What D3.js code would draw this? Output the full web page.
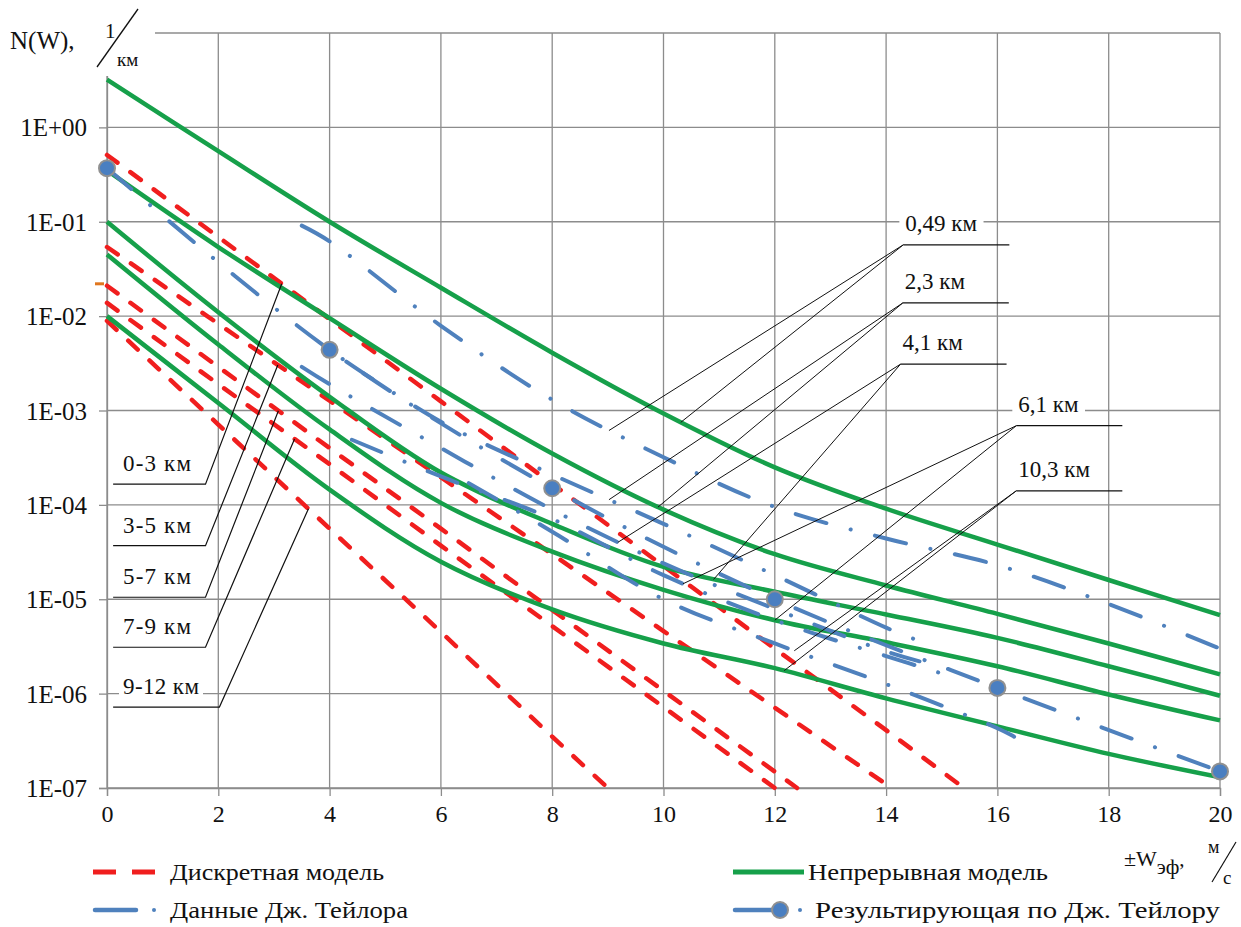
<!DOCTYPE html>
<html>
<head>
<meta charset="utf-8">
<script src="https://cdn.jsdelivr.net/npm/d3@7"></script>
<style>
  body { margin: 0; background: #fff; }
  svg text { font-family: "Liberation Serif", "DejaVu Serif", "Times New Roman", serif !important; fill: #111; }
</style>
</head>
<body>
<div id="chart"></div>
<script>
//axis ticks
var xTicks = [0, 2, 4, 6, 8, 10, 12, 14, 16, 18, 20];
var yTicks = [1e-7, 1e-6, 1e-5, 1e-4, 1e-3, 1e-2, 1e-1, 1];
var yTickLabels = ["1E-07", "1E-06", "1E-05", "1E-04", "1E-03", "1E-02", "1E-01", "1E+00"];

//discrete model (red dashed), one row per altitude band
var discreteNames = ["0-3 км", "3-5 км", "5-7 км", "7-9 км", "9-12 км"];
var discreteW = [
    [0, 2, 4, 6, 8, 10, 12, 14, 15.4],
    [0, 2, 4, 6, 8, 10, 12, 14.1],
    [0, 2, 4, 6, 8, 10, 12, 12.4],
    [0, 2, 4, 6, 8, 10, 12],
    [0, 2, 4, 6, 8, 9]
];
var discreteN = [
    [0.51, 0.069, 0.0093, 0.00125, 1.67e-4, 2.25e-5, 3.0e-6, 4.1e-7, 1e-7],
    [0.054, 0.0083, 0.00127, 1.96e-4, 3.0e-5, 4.6e-6, 7.1e-7, 1e-7],
    [0.021, 0.0029, 4.0e-4, 5.6e-5, 7.7e-6, 1.07e-6, 1.49e-7, 1e-7],
    [0.0138, 0.0019, 2.7e-4, 3.7e-5, 5.2e-6, 7.2e-7, 1e-7],
    [0.0089, 7.1e-4, 5.6e-5, 4.5e-6, 3.5e-7, 1e-7]
];

//continuous model (green), one row per altitude
var heightNames = ["0,49 км", "2,3 км", "4,1 км", "6,1 км", "10,3 км"];
var continuousW = [0, 2, 4, 6, 8, 10, 12, 14, 16, 18, 20];
var continuousN = [
    [3.2, 0.56, 0.1, 0.020, 0.0041, 9.3e-4, 2.5e-4, 9.1e-5, 3.8e-5, 1.6e-5, 6.8e-6],
    [0.35, 0.054, 0.0095, 0.0017, 3.5e-4, 8.9e-5, 3.0e-5, 1.4e-5, 7.0e-6, 3.4e-6, 1.6e-6],
    [0.1, 0.011, 0.0014, 2.2e-4, 6.3e-5, 2.2e-5, 1.2e-5, 6.9e-6, 3.9e-6, 1.95e-6, 9.5e-7],
    [0.045, 0.005, 6.3e-4, 1.05e-4, 3.2e-5, 1.26e-5, 6.0e-6, 3.5e-6, 1.95e-6, 9.8e-7, 5.2e-7],
    [0.01, 0.0012, 1.45e-4, 2.5e-5, 7.8e-6, 3.4e-6, 1.86e-6, 8.9e-7, 4.5e-7, 2.3e-7, 1.3e-7]
];

//G. Taylor data (blue dash-dot), same altitudes
var taylorW = [
    [3.5, 4, 6, 8, 10, 12, 14, 16, 18, 20],
    [4.3, 6, 8, 10, 12, 14, 14.5],
    [3.5, 4, 6, 8, 10, 12, 14, 14.6],
    [4.4, 6, 8, 10, 12, 14, 15.2],
    [6.5, 8, 10, 12, 14, 16, 16.3]
];
var taylorN = [
    [0.091, 0.062, 0.0079, 0.0013, 3.2e-4, 9.5e-5, 4.4e-5, 2.3e-5, 8.9e-6, 3.0e-6],
    [0.0033, 7.6e-4, 2.1e-4, 6.3e-5, 1.8e-5, 5.0e-6, 3.8e-6],
    [0.0029, 0.0019, 4.0e-4, 8.9e-5, 2.4e-5, 7.9e-6, 2.8e-6, 2.2e-6],
    [4.9e-4, 2.0e-4, 7.1e-5, 1.8e-5, 6.0e-6, 2.5e-6, 1.5e-6],
    [1.7e-4, 5.2e-5, 1.0e-5, 3.4e-6, 1.26e-6, 4.3e-7, 3.5e-7]
];

//resulting curve after G. Taylor (with markers)
var resultW = [0, 4, 8, 12, 16, 20];
var resultN = [0.37, 0.0044, 1.5e-4, 1.0e-5, 1.15e-6, 1.5e-7];

//small orange stub at the axis
var stubN = 0.022;

//callout anchors (in axis units) and leader targets
var leftNoteN = [1.66e-4, 3.7e-5, 1.05e-5, 3.1e-6, 7.2e-7];
var leftNoteTargetW = [3.14, 3.07, 3.08, 3.37, 3.62];
var rightNoteN = [0.057, 0.0138, 0.0031, 6.9e-4, 1.41e-4];
var rightNoteW = [14.31, 14.30, 14.26, 16.34, 16.34];
var rightNoteTaylorW = [9.02, 9.02, 9.18, 10.35, 12.35];
var rightNoteContW = [10.31, 9.9, 10.9, 12.0, 12.17];

//legend entries
var legendNames = ["Дискретная модель", "Данные Дж. Тейлора", "Непрерывная модель", "Результирующая по Дж. Тейлору"];

var W = 1241, H = 927;
var red = "#f01e1e", green = "#16a04a", blue = "#4f81bd", gridColor = "#8c8c8c";
var serif = "'Liberation Serif', 'DejaVu Serif', serif";

var svg = d3.select("#chart")
    .append("svg")
    .attr("width", W)
    .attr("height", H)
    .attr("font-family", serif);

//scales
var xScale = d3.scaleLinear().domain([0, 20]).range([107, 1220]);
var yScale = d3.scaleLog().domain([1e-7, 10]).range([788, 33]);

//grid
svg.append("g")
    .selectAll("line")
    .data(xTicks)
    .enter()
    .append("line")
    .attr("x1", function(d) { return xScale(d); })
    .attr("x2", function(d) { return xScale(d); })
    .attr("y1", yScale(10))
    .attr("y2", yScale(1e-7))
    .attr("stroke", gridColor)
    .attr("stroke-width", 1.3);

svg.append("g")
    .selectAll("line")
    .data(yTicks.concat([10]))
    .enter()
    .append("line")
    .attr("x1", xScale(0))
    .attr("x2", xScale(20))
    .attr("y1", function(d) { return yScale(d); })
    .attr("y2", function(d) { return yScale(d); })
    .attr("stroke", gridColor)
    .attr("stroke-width", 1.3);

//axes
var xAxis = d3.axisBottom(xScale)
    .tickValues(xTicks)
    .tickSize(8)
    .tickPadding(9)
    .tickFormat(function(d) { return d; });

var yAxis = d3.axisLeft(yScale)
    .tickValues(yTicks)
    .tickSize(8)
    .tickPadding(12)
    .tickFormat(function(d, i) { return yTickLabels[i]; });

var gx = svg.append("g")
    .attr("transform", "translate(0," + yScale(1e-7) + ")")
    .call(xAxis);
var gy = svg.append("g")
    .attr("transform", "translate(" + xScale(0) + ",0)")
    .call(yAxis);

[gx, gy].forEach(function(g) {
    g.attr("font-family", serif);
    g.select(".domain").attr("stroke", gridColor).attr("stroke-width", 1.3);
    g.selectAll(".tick line").attr("stroke", gridColor).attr("stroke-width", 1.3);
    g.selectAll(".tick text")
        .attr("font-size", 24)
        .attr("fill", "#111");
});
gy.selectAll(".tick text").attr("font-size", 25).attr("dy", "0.34em");

//lines
var smooth = d3.line()
    .x(function(d) { return xScale(d[0]); })
    .y(function(d) { return yScale(d[1]); })
    .curve(d3.curveCatmullRom.alpha(0.5));

var straight = d3.line()
    .x(function(d) { return xScale(d[0]); })
    .y(function(d) { return yScale(d[1]); });

function pairs(ws, ns) {
    return ws.map(function(w, i) { return [w, ns[i]]; });
}

var plot = svg.append("g");

//red dashed discrete model
var redPaths = discreteN.map(function(ns, i) {
    return plot.append("path")
        .datum(pairs(discreteW[i], ns))
        .attr("d", straight)
        .attr("fill", "none")
        .attr("stroke", red)
        .attr("stroke-width", 4.5)
        .attr("stroke-linecap", "round")
        .attr("stroke-dasharray", "13,16")
        .node();
});

//green continuous model
var greenPaths = continuousN.map(function(ns) {
    return plot.append("path")
        .datum(pairs(continuousW, ns))
        .attr("d", smooth)
        .attr("fill", "none")
        .attr("stroke", green)
        .attr("stroke-width", 4.5)
        .node();
});

//blue dash-dot Taylor data
var bluePaths = taylorN.map(function(ns, i) {
    return plot.append("path")
        .datum(pairs(taylorW[i], ns))
        .attr("d", smooth)
        .attr("fill", "none")
        .attr("stroke", blue)
        .attr("stroke-width", 4)
        .attr("stroke-linecap", "round")
        .attr("stroke-dasharray", "32,25,0.1,25")
        .node();
});

//resulting line with markers
plot.append("path")
    .datum(pairs(resultW, resultN))
    .attr("d", smooth)
    .attr("fill", "none")
    .attr("stroke", blue)
    .attr("stroke-width", 4)
    .attr("stroke-linecap", "round")
    .attr("stroke-dasharray", "32,25,0.1,25");

plot.selectAll(".marker")
    .data(pairs(resultW, resultN))
    .enter()
    .append("circle")
    .attr("class", "marker")
    .attr("cx", function(d) { return xScale(d[0]); })
    .attr("cy", function(d) { return yScale(d[1]); })
    .attr("r", 8)
    .attr("fill", "#4a7fc1")
    .attr("stroke", "#909090")
    .attr("stroke-width", 2);

//orange stub
svg.append("line")
    .attr("x1", xScale(0) - 12)
    .attr("x2", xScale(0) - 3)
    .attr("y1", yScale(stubN))
    .attr("y2", yScale(stubN))
    .attr("stroke", "#e0761e")
    .attr("stroke-width", 3);

//find the point of a drawn path at a given x pixel
function pointAtX(node, px) {
    var lo = 0, hi = node.getTotalLength();
    for (var k = 0; k < 40; k++) {
        var mid = (lo + hi) / 2;
        if (node.getPointAtLength(mid).x < px) lo = mid; else hi = mid;
    }
    return node.getPointAtLength(lo);
}

var notes = svg.append("g");

//left callouts for discrete model
discreteNames.forEach(function(name, i) {
    var ly = yScale(leftNoteN[i]);
    var x0 = xScale(0.11);
    var x1 = i == 4 ? xScale(2.02) : xScale(1.77);
    var p = pointAtX(redPaths[i], xScale(leftNoteTargetW[i]));
    notes.append("rect")
        .attr("x", 119).attr("y", ly - 33)
        .attr("width", i == 4 ? 84 : 74).attr("height", 26)
        .attr("fill", "#fff");
    notes.append("text")
        .attr("x", 123).attr("y", ly - 13)
        .attr("font-size", 23)
        .attr("textLength", i == 4 ? 76 : 68)
        .text(name);
    notes.append("polyline")
        .attr("points", [[x0, ly], [x1, ly], [p.x, p.y]].join(" "))
        .attr("fill", "none")
        .attr("stroke", "#111")
        .attr("stroke-width", 1.2);
});

//right callouts for altitudes
heightNames.forEach(function(name, i) {
    var ly = yScale(rightNoteN[i]);
    var x0 = xScale(rightNoteW[i]);
    var x1 = x0 + 106;
    var pb = pointAtX(bluePaths[i], xScale(rightNoteTaylorW[i]));
    var pg = pointAtX(greenPaths[i], xScale(rightNoteContW[i]));
    var t = notes.append("text")
        .attr("x", x0 + 2).attr("y", ly - 14)
        .attr("font-size", 23)
        .text(name);
    var bb = t.node().getBBox();
    notes.insert("rect", "text:last-child")
        .attr("x", bb.x - 6).attr("y", bb.y + 2)
        .attr("width", bb.width + 12).attr("height", bb.height - 2)
        .attr("fill", "#fff");
    notes.append("line")
        .attr("x1", x0).attr("x2", x1).attr("y1", ly).attr("y2", ly)
        .attr("stroke", "#111").attr("stroke-width", 1.2);
    [pb, pg].forEach(function(p) {
        notes.append("line")
            .attr("x1", x0).attr("y1", ly)
            .attr("x2", p.x).attr("y2", p.y)
            .attr("stroke", "#111").attr("stroke-width", 1);
    });
});

//y axis title corner
svg.append("rect")
    .attr("x", 0).attr("y", 0)
    .attr("width", 155).attr("height", 76)
    .attr("fill", "#fff");
svg.append("text")
    .attr("x", 10).attr("y", 49)
    .attr("font-size", 25)
    .text("N(W),");
svg.append("text")
    .attr("x", 105).attr("y", 38)
    .attr("font-size", 21)
    .text("1");
svg.append("line")
    .attr("x1", 97).attr("y1", 67)
    .attr("x2", 138).attr("y2", 9)
    .attr("stroke", "#111").attr("stroke-width", 1.3);
svg.append("text")
    .attr("x", 117).attr("y", 66)
    .attr("font-size", 19)
    .text("км");

//x axis title
var xt = svg.append("text")
    .attr("x", 1124).attr("y", 866)
    .attr("font-size", 22);
xt.append("tspan").text("±W");
xt.append("tspan").attr("font-size", 21).attr("dy", 8).text("эф");
xt.append("tspan").attr("font-size", 21).attr("dy", -8).text(", ");
svg.append("text")
    .attr("x", 1208).attr("y", 853)
    .attr("font-size", 18)
    .text("м");
svg.append("line")
    .attr("x1", 1212).attr("y1", 882)
    .attr("x2", 1236).attr("y2", 842)
    .attr("stroke", "#111").attr("stroke-width", 1.2);
svg.append("text")
    .attr("x", 1223).attr("y", 884)
    .attr("font-size", 19)
    .text("с");

//legend
var legend = svg.append("g");
legend.append("line")
    .attr("x1", 93).attr("x2", 155).attr("y1", 872).attr("y2", 872)
    .attr("stroke", red).attr("stroke-width", 5)
    .attr("stroke-dasharray", "23,16");
legend.append("line")
    .attr("x1", 95).attr("x2", 136).attr("y1", 910).attr("y2", 910)
    .attr("stroke", blue).attr("stroke-width", 4.5).attr("stroke-linecap", "round");
legend.append("circle")
    .attr("cx", 154).attr("cy", 910).attr("r", 2).attr("fill", blue);
legend.append("line")
    .attr("x1", 733).attr("x2", 804).attr("y1", 872).attr("y2", 872)
    .attr("stroke", green).attr("stroke-width", 5);
legend.append("line")
    .attr("x1", 735).attr("x2", 776).attr("y1", 910).attr("y2", 910)
    .attr("stroke", blue).attr("stroke-width", 4.5).attr("stroke-linecap", "round");
legend.append("circle")
    .attr("cx", 780).attr("cy", 910).attr("r", 8)
    .attr("fill", "#4a7fc1").attr("stroke", "#909090").attr("stroke-width", 2);
legend.append("circle")
    .attr("cx", 800).attr("cy", 910).attr("r", 2).attr("fill", blue);

var legendX = [170, 170, 808, 815];
var legendY = [880, 918, 880, 918];
var legendLen = [214, 238, 240, 405];
legendNames.forEach(function(name, i) {
    legend.append("text")
        .attr("x", legendX[i]).attr("y", legendY[i])
        .attr("font-size", 23)
        .attr("textLength", legendLen[i])
        .attr("lengthAdjust", "spacingAndGlyphs")
        .text(name);
});
</script>
</body>
</html>
